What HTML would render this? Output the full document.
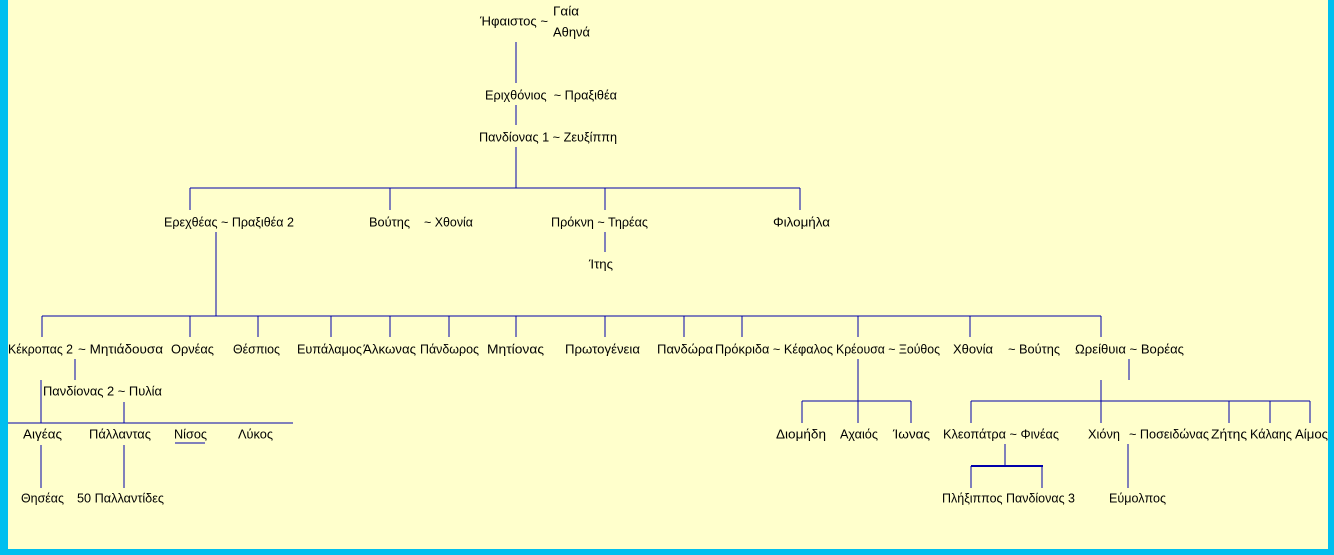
<!DOCTYPE html>
<html><head><meta charset="utf-8"><style>
html,body{margin:0;padding:0;background:#FFFFCC}
svg{display:block}
text{font-family:"Liberation Sans",sans-serif;font-size:13px;fill:#000}
</style></head><body>
<svg width="1334" height="555" viewBox="0 0 1334 555" xmlns="http://www.w3.org/2000/svg">
<rect x="0" y="0" width="1334" height="555" fill="#FFFFCC"/>
<rect x="0" y="0" width="8" height="555" fill="#00BFEF"/>
<rect x="1328" y="0" width="6" height="555" fill="#00BFEF"/>
<rect x="0" y="549" width="1334" height="6" fill="#00BFEF"/>
<g stroke="#0000AA" stroke-width="1.2" fill="none" shape-rendering="crispEdges">
<path d="M516 42V83M516 105V125M516 147V188M190 188H800M190 188V210M390 188V210M605 188V210M800 188V210"/>
<path d="M216 232V316M605 232V252M42 316H1101"/>
<path d="M42 316V337M190 316V337M258 316V337M331 316V337M390 316V337M449 316V337M516 316V337M605 316V337M684 316V337M742 316V337M858 316V337M970 316V337M1101 316V337"/>
<path d="M75 359V380M41 380V423M124 402V423M8 423H293M175 443H205M41 445V488M124 445V488"/>
<path d="M858 359V401M802 401H911M802 401V423M858 401V423M911 401V423"/>
<path d="M1129 359V380M1101 380V423M971 401H1310M971 401V423M1229 401V423M1270 401V423M1310 401V423"/>
<path d="M1005 444V465M971 466V488M1042 466V488M1128 444V488"/>
</g>
<rect x="971" y="465" width="72" height="2" fill="#0000AA"/>
<g dominant-baseline="central" lengthAdjust="spacingAndGlyphs">
<text x="480" y="21" textLength="68" lengthAdjust="spacingAndGlyphs">Ήφαιστος ~</text>
<text x="553" y="11" textLength="26" lengthAdjust="spacingAndGlyphs">Γαία</text>
<text x="553" y="32" textLength="37" lengthAdjust="spacingAndGlyphs">Αθηνά</text>
<text x="485" y="95" textLength="132" lengthAdjust="spacingAndGlyphs" xml:space="preserve">Εριχθόνιος  ~ Πραξιθέα</text>
<text x="479" y="137" textLength="138" lengthAdjust="spacingAndGlyphs">Πανδίονας 1 ~ Ζευξίππη</text>
<text x="164" y="222" textLength="130" lengthAdjust="spacingAndGlyphs">Ερεχθέας ~ Πραξιθέα 2</text>
<text x="369" y="222" textLength="41" lengthAdjust="spacingAndGlyphs">Βούτης</text>
<text x="424" y="222" textLength="49" lengthAdjust="spacingAndGlyphs">~ Χθονία</text>
<text x="551" y="222" textLength="97" lengthAdjust="spacingAndGlyphs">Πρόκνη ~ Τηρέας</text>
<text x="773" y="222" textLength="57" lengthAdjust="spacingAndGlyphs">Φιλομήλα</text>
<text x="589" y="264" textLength="24" lengthAdjust="spacingAndGlyphs">Ίτης</text>
<text x="8" y="349" textLength="65" lengthAdjust="spacingAndGlyphs">Κέκροπας 2</text>
<text x="78" y="349" textLength="85" lengthAdjust="spacingAndGlyphs">~ Μητιάδουσα</text>
<text x="171" y="349" textLength="43" lengthAdjust="spacingAndGlyphs">Ορνέας</text>
<text x="233" y="349" textLength="47" lengthAdjust="spacingAndGlyphs">Θέσπιος</text>
<text x="297" y="349" textLength="65" lengthAdjust="spacingAndGlyphs">Ευπάλαμος</text>
<text x="363" y="349" textLength="53" lengthAdjust="spacingAndGlyphs">Άλκωνας</text>
<text x="420" y="349" textLength="59" lengthAdjust="spacingAndGlyphs">Πάνδωρος</text>
<text x="487" y="349" textLength="57" lengthAdjust="spacingAndGlyphs">Μητίονας</text>
<text x="565" y="349" textLength="75" lengthAdjust="spacingAndGlyphs">Πρωτογένεια</text>
<text x="657" y="349" textLength="56" lengthAdjust="spacingAndGlyphs">Πανδώρα</text>
<text x="715" y="349" textLength="118" lengthAdjust="spacingAndGlyphs">Πρόκριδα ~ Κέφαλος</text>
<text x="836" y="349" textLength="104" lengthAdjust="spacingAndGlyphs">Κρέουσα ~ Ξούθος</text>
<text x="953" y="349" textLength="40" lengthAdjust="spacingAndGlyphs">Χθονία</text>
<text x="1008" y="349" textLength="52" lengthAdjust="spacingAndGlyphs">~ Βούτης</text>
<text x="1075" y="349" textLength="109" lengthAdjust="spacingAndGlyphs">Ωρείθυια ~ Βορέας</text>
<text x="43" y="391" textLength="119" lengthAdjust="spacingAndGlyphs">Πανδίονας 2 ~ Πυλία</text>
<text x="23" y="434" textLength="39" lengthAdjust="spacingAndGlyphs">Αιγέας</text>
<text x="89" y="434" textLength="62" lengthAdjust="spacingAndGlyphs">Πάλλαντας</text>
<text x="174" y="434" textLength="33" lengthAdjust="spacingAndGlyphs">Νίσος</text>
<text x="238" y="434" textLength="35" lengthAdjust="spacingAndGlyphs">Λύκος</text>
<text x="776" y="434" textLength="50" lengthAdjust="spacingAndGlyphs">Διομήδη</text>
<text x="840" y="434" textLength="38" lengthAdjust="spacingAndGlyphs">Αχαιός</text>
<text x="893" y="434" textLength="37" lengthAdjust="spacingAndGlyphs">Ίωνας</text>
<text x="943" y="434" textLength="116" lengthAdjust="spacingAndGlyphs">Κλεοπάτρα ~ Φινέας</text>
<text x="1088" y="434" textLength="32" lengthAdjust="spacingAndGlyphs">Χιόνη</text>
<text x="1129" y="434" textLength="80" lengthAdjust="spacingAndGlyphs">~ Ποσειδώνας</text>
<text x="1211" y="434" textLength="36" lengthAdjust="spacingAndGlyphs">Ζήτης</text>
<text x="1250" y="434" textLength="42" lengthAdjust="spacingAndGlyphs">Κάλαης</text>
<text x="1295" y="434" textLength="33" lengthAdjust="spacingAndGlyphs">Αίμος</text>
<text x="21" y="498" textLength="43" lengthAdjust="spacingAndGlyphs">Θησέας</text>
<text x="77" y="498" textLength="87" lengthAdjust="spacingAndGlyphs">50 Παλλαντίδες</text>
<text x="942" y="498" textLength="133" lengthAdjust="spacingAndGlyphs">Πλήξιππος Πανδίονας 3</text>
<text x="1109" y="498" textLength="57" lengthAdjust="spacingAndGlyphs">Εύμολπος</text>
</g>
</svg>
</body></html>
